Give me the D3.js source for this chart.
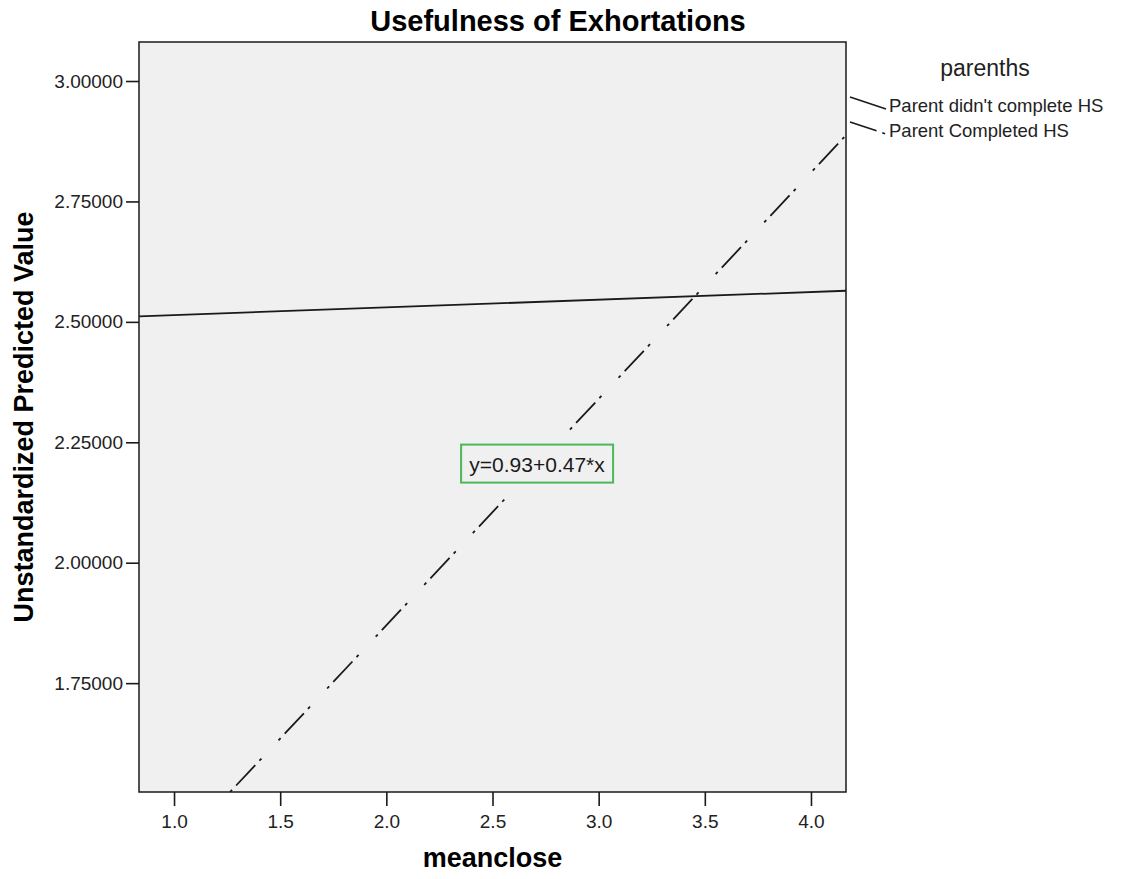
<!DOCTYPE html>
<html>
<head>
<meta charset="utf-8">
<script src="https://cdn.jsdelivr.net/npm/d3@7"></script>
<style>
  html, body { margin: 0; padding: 0; background: #ffffff; }
  svg { display: block; font-family: "Liberation Sans", Arial, sans-serif; }
</style>
</head>
<body>
<svg id="chart" width="1121" height="879"></svg>
<script>
// Fit lines of predicted value on meanclose, one per parenths group
const groups = ["Parent didn't complete HS", "Parent Completed HS"];
const intercepts = [2.498, 0.93];
const slopes = [0.016, 0.47];
const dashes = [null, "28,6,3,25,3,6"];

// Axis ranges and ticks
const xDomain = [0.835, 4.165];
const yDomain = [1.524, 3.081];
const xTicks = [1.0, 1.5, 2.0, 2.5, 3.0, 3.5, 4.0];
const yTicks = [1.75, 2.0, 2.25, 2.5, 2.75, 3.0];

// Equation label for the second group's line
const fitLabelGroup = 1;
const fitLabelX = 2.71;
const fitLabelText = "y=0.93+0.47*x";

const svg = d3.select("#chart");
const plot = { left: 139, right: 846, top: 42, bottom: 792 };

const x = d3.scaleLinear().domain(xDomain).range([plot.left, plot.right]);
const y = d3.scaleLinear().domain(yDomain).range([plot.bottom, plot.top]);

// Plot area
svg.append("rect")
  .attr("x", plot.left).attr("y", plot.top)
  .attr("width", plot.right - plot.left).attr("height", plot.bottom - plot.top)
  .attr("fill", "#f0f0f0");

svg.append("clipPath").attr("id", "plotClip")
  .append("rect")
  .attr("x", plot.left).attr("y", plot.top)
  .attr("width", plot.right - plot.left).attr("height", plot.bottom - plot.top);

const lineGen = d3.line().x(d => x(d[0])).y(d => y(d[1]));
const linesG = svg.append("g").attr("clip-path", "url(#plotClip)");

groups.forEach((g, i) => {
  const pts = xDomain.map(v => [v, intercepts[i] + slopes[i] * v]);
  linesG.append("path")
    .datum(pts)
    .attr("d", lineGen)
    .attr("fill", "none")
    .attr("stroke", "#1a1a1a")
    .attr("stroke-width", 1.8)
    .attr("stroke-dasharray", dashes[i]);
});

// Equation box on the fitted line
const lx = x(fitLabelX);
const ly = y(intercepts[fitLabelGroup] + slopes[fitLabelGroup] * fitLabelX);
svg.append("rect")
  .attr("x", lx - 76).attr("y", ly - 20)
  .attr("width", 152).attr("height", 38)
  .attr("fill", "#f0f0f0")
  .attr("stroke", "#4cb85a")
  .attr("stroke-width", 2);
svg.append("text")
  .attr("x", lx).attr("y", ly + 7)
  .attr("text-anchor", "middle")
  .attr("font-size", 21)
  .attr("fill", "#1a1a1a")
  .text(fitLabelText);

// Axes
const xAxis = svg.append("g")
  .attr("transform", `translate(0,${plot.bottom})`)
  .call(d3.axisBottom(x).tickValues(xTicks).tickFormat(d3.format(".1f")).tickSize(14).tickPadding(9));
const yAxis = svg.append("g")
  .attr("transform", `translate(${plot.left},0)`)
  .call(d3.axisLeft(y).tickValues(yTicks).tickFormat(d3.format(".5f")).tickSize(13).tickPadding(3));

[xAxis, yAxis].forEach(a => {
  a.select(".domain").remove();
  a.selectAll(".tick line").attr("stroke", "#1a1a1a").attr("stroke-width", 1.6);
  a.selectAll(".tick text")
    .attr("fill", "#222")
    .attr("font-size", 19)
    .attr("font-family", "'Liberation Sans', Arial, sans-serif");
});

// Frame
svg.append("rect")
  .attr("x", plot.left).attr("y", plot.top)
  .attr("width", plot.right - plot.left).attr("height", plot.bottom - plot.top)
  .attr("fill", "none")
  .attr("stroke", "#1a1a1a")
  .attr("stroke-width", 1.5);

// Titles
svg.append("text")
  .attr("x", 558).attr("y", 31)
  .attr("text-anchor", "middle")
  .attr("font-size", 29).attr("font-weight", "bold")
  .text("Usefulness of Exhortations");

svg.append("text")
  .attr("x", x(2.5)).attr("y", 867)
  .attr("text-anchor", "middle")
  .attr("font-size", 27).attr("font-weight", "bold")
  .text("meanclose");

svg.append("text")
  .attr("transform", `translate(33,417) rotate(-90)`)
  .attr("text-anchor", "middle")
  .attr("font-size", 27).attr("font-weight", "bold")
  .text("Unstandardized Predicted Value");

// Legend
const legend = svg.append("g");
legend.append("text")
  .attr("x", 985).attr("y", 76)
  .attr("text-anchor", "middle")
  .attr("font-size", 23)
  .attr("fill", "#222")
  .text("parenths");

groups.forEach((g, i) => {
  const yy = 97 + i * 25;
  legend.append("line")
    .attr("x1", 850).attr("y1", yy)
    .attr("x2", 886).attr("y2", yy + 12)
    .attr("stroke", "#1a1a1a")
    .attr("stroke-width", 1.6)
    .attr("stroke-dasharray", dashes[i]);
  legend.append("text")
    .attr("x", 889).attr("y", yy + 15)
    .attr("font-size", 18.5)
    .attr("fill", "#222")
    .text(g);
});
</script>
</body>
</html>
